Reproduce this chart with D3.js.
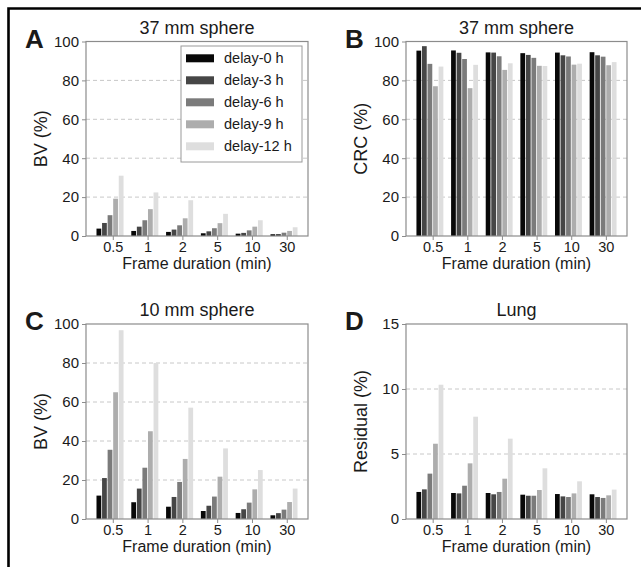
<!DOCTYPE html>
<html>
<head>
<meta charset="utf-8">
<script src="https://cdn.jsdelivr.net/npm/d3@7"></script>
<style>
  html, body { margin: 0; padding: 0; background: #fff; }
  svg { display: block; }
  text { font-family: "Liberation Sans", Arial, sans-serif; fill: #1a1a1a; }
</style>
</head>
<body>
<svg id="fig" width="641" height="567"></svg>
<script>
// Frame durations (min) on the x axis, one group per duration
const frameDurations = ["0.5", "1", "2", "5", "10", "30"];
// Delay series, one bar per delay in each group
const delays = ["delay-0 h", "delay-3 h", "delay-6 h", "delay-9 h", "delay-12 h"];
const delayColors = ["#080808", "#464646", "#7b7b7b", "#adadad", "#dedede"];

// A: BV (%) for the 37 mm sphere, one array per delay
const bv37_d0  = [3.8, 2.6, 2.1, 1.4, 1.2, 0.9];
const bv37_d3  = [6.7, 4.8, 3.3, 2.4, 1.6, 1.0];
const bv37_d6  = [10.7, 8.1, 5.5, 4.0, 2.9, 1.7];
const bv37_d9  = [19.2, 13.8, 9.1, 6.6, 4.8, 2.6];
const bv37_d12 = [31.0, 22.4, 18.4, 11.4, 8.1, 4.5];

// B: CRC (%) for the 37 mm sphere
const crc37_d0  = [95.3, 95.4, 94.4, 94.0, 94.3, 94.5];
const crc37_d3  = [97.6, 94.2, 94.3, 93.1, 92.9, 92.9];
const crc37_d6  = [88.5, 91.0, 92.4, 91.6, 92.3, 92.2];
const crc37_d9  = [77.0, 76.0, 85.4, 87.5, 88.1, 87.8];
const crc37_d12 = [87.1, 88.0, 88.8, 87.4, 88.6, 89.4];

// C: BV (%) for the 10 mm sphere
const bv10_d0  = [12.0, 8.6, 6.3, 4.1, 3.1, 1.9];
const bv10_d3  = [21.0, 15.6, 11.3, 6.8, 5.0, 3.0];
const bv10_d6  = [35.5, 26.3, 19.0, 11.5, 8.4, 4.8];
const bv10_d9  = [65.0, 45.0, 30.8, 21.7, 15.2, 8.7];
const bv10_d12 = [96.8, 80.0, 57.1, 36.2, 25.1, 15.6];

// D: lung residual (%)
const lung_d0  = [2.08, 2.00, 2.00, 1.87, 1.92, 1.90];
const lung_d3  = [2.28, 1.97, 1.90, 1.79, 1.74, 1.69];
const lung_d6  = [3.49, 2.56, 2.08, 1.79, 1.69, 1.62];
const lung_d9  = [5.79, 4.28, 3.10, 2.23, 1.97, 1.82];
const lung_d12 = [10.33, 7.87, 6.18, 3.90, 2.90, 2.26];

// Y axis tick values
const pctTicks = [0, 20, 40, 60, 80, 100];
const residualTicks = [0, 5, 10, 15];

const panels = [
  { letter: "A", title: "37 mm sphere", yLabel: "BV (%)", yMax: 100, ticks: pctTicks,
    series: [bv37_d0, bv37_d3, bv37_d6, bv37_d9, bv37_d12],
    box: { left: 86, right: 308, top: 41.5, bottom: 236 }, legend: true },
  { letter: "B", title: "37 mm sphere", yLabel: "CRC (%)", yMax: 100, ticks: pctTicks,
    series: [crc37_d0, crc37_d3, crc37_d6, crc37_d9, crc37_d12],
    box: { left: 406, right: 627, top: 41.5, bottom: 236 } },
  { letter: "C", title: "10 mm sphere", yLabel: "BV (%)", yMax: 100, ticks: pctTicks,
    series: [bv10_d0, bv10_d3, bv10_d6, bv10_d9, bv10_d12],
    box: { left: 86, right: 308, top: 324, bottom: 519 } },
  { letter: "D", title: "Lung", yLabel: "Residual (%)", yMax: 15, ticks: residualTicks,
    series: [lung_d0, lung_d3, lung_d6, lung_d9, lung_d12],
    box: { left: 406, right: 627, top: 324, bottom: 519 } }
];

const svg = d3.select("#fig");

// outer frame of the figure (top and left edges visible)
svg.append("path")
  .attr("d", "M8.5,567 L8.5,8.5 L641,8.5")
  .attr("fill", "none").attr("stroke", "#000").attr("stroke-width", 2.6);

const barStep = 0.16;           // bar offset within a group, in group units
const nGroups = frameDurations.length;

panels.forEach(p => {
  const b = p.box;
  const g = svg.append("g");

  const x = d3.scaleLinear()
    .domain([-0.37, nGroups - 1 + 4.5 * barStep + 0.29])
    .range([b.left, b.right]);
  const y = d3.scaleLinear().domain([0, p.yMax]).range([b.bottom, b.top]);

  // dashed horizontal grid lines
  g.append("g").selectAll("line")
    .data(p.ticks.filter(t => t > 0 && t < p.yMax))
    .join("line")
    .attr("x1", b.left).attr("x2", b.right)
    .attr("y1", d => y(d)).attr("y2", d => y(d))
    .attr("stroke", "#c8c8c8").attr("stroke-width", 1)
    .attr("stroke-dasharray", "4,3");

  // bars
  const bw = x(barStep) - x(0);
  p.series.forEach((vals, k) => {
    g.append("g").selectAll("rect")
      .data(vals)
      .join("rect")
      .attr("x", (d, i) => x(i + k * barStep) - bw / 2 + 0.4)
      .attr("width", bw - 0.8)
      .attr("y", d => y(d))
      .attr("height", d => y(0) - y(d))
      .attr("fill", delayColors[k]);
  });

  // frame of the axes
  g.append("rect")
    .attr("x", b.left).attr("y", b.top)
    .attr("width", b.right - b.left).attr("height", b.bottom - b.top)
    .attr("fill", "none").attr("stroke", "#8c8c8c").attr("stroke-width", 1.2);

  // y axis
  const yAxis = g.append("g")
    .attr("transform", `translate(${b.left},0)`)
    .call(d3.axisLeft(y).tickValues(p.ticks).tickSize(4).tickPadding(3).tickFormat(d3.format("d")));
  yAxis.select(".domain").remove();
  yAxis.selectAll(".tick line").attr("stroke", "#8c8c8c");
  yAxis.selectAll(".tick text").attr("font-size", 15).attr("fill", "#1a1a1a")
    .attr("font-family", "Liberation Sans, Arial, sans-serif");

  // x axis: ticks sit between the 3rd and 4th bar of each group
  const xAxis = g.append("g")
    .attr("transform", `translate(0,${b.bottom})`)
    .call(d3.axisBottom(x)
      .tickValues(frameDurations.map((_, i) => i + 2.5 * barStep))
      .tickFormat((d, i) => frameDurations[i])
      .tickSize(4).tickPadding(2));
  xAxis.select(".domain").remove();
  xAxis.selectAll(".tick line").attr("stroke", "#8c8c8c");
  xAxis.selectAll(".tick text").attr("font-size", 14.5).attr("fill", "#1a1a1a")
    .attr("font-family", "Liberation Sans, Arial, sans-serif");

  const cx = (b.left + b.right) / 2;
  const cy = (b.top + b.bottom) / 2;

  // title
  g.append("text").attr("x", cx).attr("y", b.top - 8)
    .attr("text-anchor", "middle").attr("font-size", 18).text(p.title);

  // x label
  g.append("text").attr("x", cx).attr("y", b.bottom + 32.5)
    .attr("text-anchor", "middle").attr("font-size", 16).text("Frame duration (min)");

  // y label
  g.append("text")
    .attr("transform", `translate(${b.left - 39},${cy}) rotate(-90)`)
    .attr("text-anchor", "middle").attr("font-size", 18).text(p.yLabel);

  // panel letter
  g.append("text").attr("x", b.left - 61).attr("y", b.top + 6)
    .attr("font-size", 26).attr("font-weight", "bold").attr("fill", "#000")
    .text(p.letter);

  // legend
  if (p.legend) {
    const lg = g.append("g");
    lg.append("rect")
      .attr("x", 181).attr("y", 46).attr("width", 121).attr("height", 116)
      .attr("fill", "#fff").attr("stroke", "#9a9a9a").attr("stroke-width", 1);
    delays.forEach((name, k) => {
      const ry = 58.3 + k * 22;
      lg.append("rect").attr("x", 186).attr("y", ry - 4).attr("width", 28).attr("height", 8)
        .attr("fill", delayColors[k]);
      lg.append("text").attr("x", 224).attr("y", ry + 5)
        .attr("font-size", 14.5).text(name);
    });
  }
});
</script>
</body>
</html>
